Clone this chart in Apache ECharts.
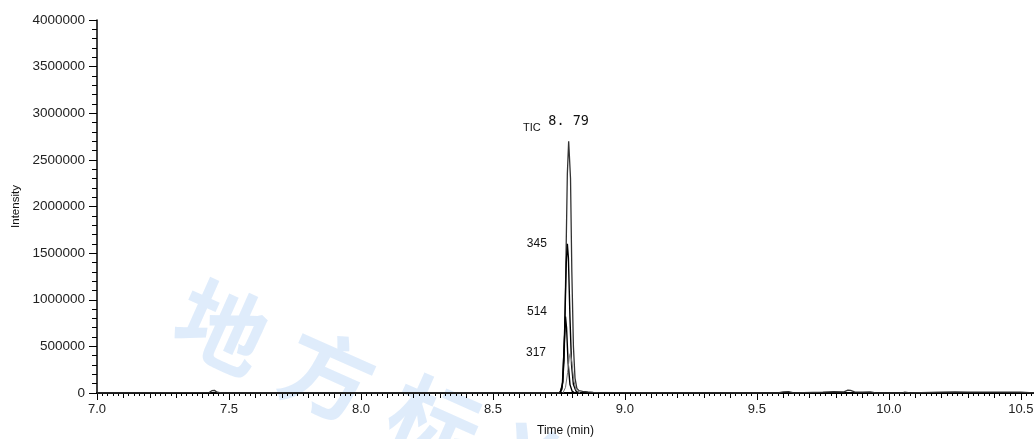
<!DOCTYPE html>
<html><head><meta charset="utf-8">
<script src="https://cdn.jsdelivr.net/npm/echarts@6/dist/echarts.min.js"></script>
<style>html,body{margin:0;padding:0;background:#fff}#c{width:1034px;height:439px}</style>
</head><body><div id="c"></div>
<script>
// ---- data ----
const ticTime  = [7.0, 7.425, 7.435, 7.445, 7.455, 7.47, 8.75, 8.762, 8.77, 8.776, 8.782, 8.787, 8.79, 8.794, 8.799, 8.805, 8.811, 8.818, 8.826, 8.84, 8.86, 8.88, 8.9, 9.05, 9.58, 9.6, 9.62, 9.64, 9.75, 9.77, 9.79, 9.83, 9.845, 9.855, 9.87, 9.9, 9.93, 9.95, 10.05, 10.06, 10.08, 10.2, 10.25, 10.3, 10.5, 10.55];
const ticValue = [0, 5000, 25000, 28000, 8000, 0, 0, 40000, 350000, 1300000, 2350000, 2700000, 2690000, 2300000, 1300000, 500000, 160000, 50000, 25000, 18000, 12000, 7000, 3000, 2000, 0, 12000, 14000, 0, 10000, 12000, 14000, 12000, 30000, 28000, 12000, 10000, 12000, 0, 0, 10000, 0, 10000, 12000, 9000, 10000, 0];
const t345 = [8.755, 8.765, 8.772, 8.778, 8.782, 8.786, 8.792, 8.798, 8.805, 8.815, 8.83];
const v345 = [0, 120000, 700000, 1400000, 1600000, 1450000, 800000, 300000, 90000, 20000, 0];
const t514 = [8.755, 8.763, 8.77, 8.775, 8.779, 8.785, 8.792, 8.8, 8.81];
const v514 = [0, 80000, 500000, 820000, 700000, 320000, 90000, 20000, 0];
const t317 = [8.765, 8.775, 8.783, 8.79, 8.794, 8.799, 8.806, 8.815, 8.83];
const v317 = [0, 60000, 220000, 400000, 430000, 330000, 140000, 30000, 0];
const peakLabel = '8. 79';
const traceNames = ['TIC', '345', '514', '317'];
const watermark = ['地', '方', '标', '准'];
const xMin = 7.0, xMax = 10.55, xStep = 0.5;
const yMin = 0, yMax = 4000000, yStep = 500000;

const zip = (a, b) => a.map((x, i) => [x, b[i]]);
const peakIdx = arr => arr.indexOf(Math.max(...arr));
const font = "'Liberation Sans', Arial, sans-serif";
const hidden = { color: 'rgba(0,0,0,0)', borderWidth: 0 };

function labeled(t, v, lab) {
  const d = zip(t, v);
  const k = peakIdx(v);
  d[k] = { value: d[k], label: lab };
  return d;
}

const ticData = zip(ticTime, ticValue);
const kTic = peakIdx(ticValue);
ticData[kTic] = {
  value: ticData[kTic],
  label: { show: true, position: 'top', distance: 12, formatter: peakLabel, fontSize: 13.5, fontFamily: "'DejaVu Sans Mono', monospace", color: '#111', offset: [0, 0] }
};
const sideLabel = (txt, dist, dy) => ({ show: true, position: 'left', distance: dist, formatter: txt, fontSize: 12, fontFamily: font, color: '#111', offset: [0, dy] });

const lineBase = { type: 'line', showSymbol: true, symbol: 'circle', symbolSize: 1, itemStyle: hidden, label: { show: false } };

const wmGraphics = watermark.map((ch, i) => ({
  type: 'text', x: 222 + i * 106, y: 327 + i * 48, rotation: -0.42, silent: true, z: 0,
  style: { text: ch, font: "bold 90px 'Noto Sans CJK SC'", fill: 'rgba(170,205,245,0.38)', textAlign: 'center', textVerticalAlign: 'middle' }
}));

const chart = echarts.init(document.getElementById('c'), null, { renderer: 'canvas' });
chart.setOption({
  animation: false,
  backgroundColor: '#fff',
  grid: { left: 97, right: 0, top: 20, bottom: 46, containLabel: false, outerBoundsMode: 'none' },
  xAxis: [{
    type: 'value', min: xMin, max: xMax, interval: xStep,
    name: 'Time (min)', nameLocation: 'middle', nameGap: 32,
    nameTextStyle: { fontSize: 12, fontFamily: font, color: '#111' },
    axisLine: { onZero: false, lineStyle: { color: '#000', width: 2 } },
    axisTick: { length: 7, lineStyle: { color: '#000', width: 1 } },
    minorTick: { show: true, splitNumber: 25, length: 3, lineStyle: { color: '#000', width: 1 } },
    axisLabel: { fontSize: 13, fontFamily: font, color: '#222', margin: 10, showMaxLabel: false,
      formatter: v => v.toFixed(1) },
    splitLine: { show: false }
  }, {
    type: 'value', min: xMin, max: xMax, interval: 0.1, position: 'bottom',
    axisLine: { show: false }, axisLabel: { show: false }, splitLine: { show: false },
    axisTick: { length: 5, lineStyle: { color: '#000', width: 1 } }
  }],
  yAxis: {
    type: 'value', min: yMin, max: yMax, interval: yStep,
    name: 'Intensity', nameLocation: 'middle', nameGap: 73, nameRotate: 90,
    nameTextStyle: { fontSize: 11.5, fontFamily: font, color: '#111' },
    axisLine: { show: true, lineStyle: { color: '#000', width: 1.5 } },
    axisTick: { length: 8, lineStyle: { color: '#000', width: 1 } },
    minorTick: { show: true, splitNumber: 5, length: 5, lineStyle: { color: '#000', width: 1 } },
    axisLabel: { fontSize: 13.5, fontFamily: font, color: '#222', margin: 12, formatter: v => String(v) },
    splitLine: { show: false }
  },
  graphic: wmGraphics.concat([
    { type: 'text', left: 523, top: 122, style: { text: traceNames[0], font: "11px 'Liberation Sans', Arial", fill: '#111' }, z: 10 }
  ]),
  series: [
    Object.assign({}, lineBase, { name: traceNames[0], data: ticData, lineStyle: { color: '#333', width: 1.3 }, z: 3 }),
    Object.assign({}, lineBase, { name: traceNames[1], data: labeled(t345, v345, sideLabel(traceNames[1], 20, 0)), lineStyle: { color: '#000', width: 1.4 }, z: 4 }),
    Object.assign({}, lineBase, { name: traceNames[2], data: labeled(t514, v514, sideLabel(traceNames[2], 18, -5)), lineStyle: { color: '#000', width: 1.4 }, z: 4 }),
    Object.assign({}, lineBase, { name: traceNames[3], data: labeled(t317, v317, sideLabel(traceNames[3], 24, 0)), lineStyle: { color: '#777', width: 1 }, z: 4 })
  ]
});
</script></body></html>
